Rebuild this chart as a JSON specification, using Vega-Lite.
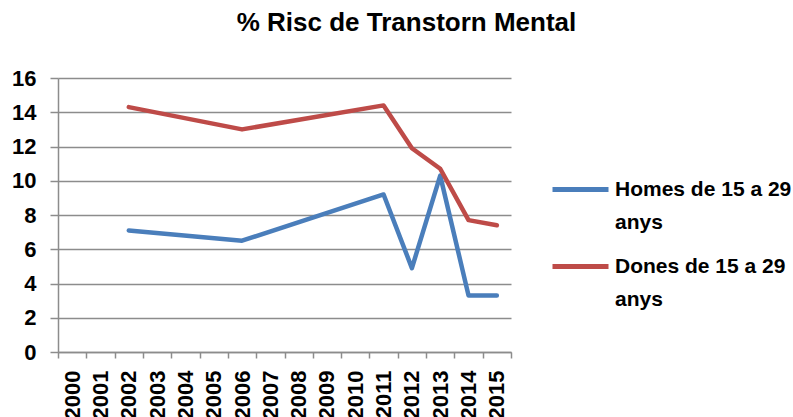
{
  "$schema": "https://vega.github.io/schema/vega-lite/v6.json",
  "width": 453,
  "height": 274,
  "autosize": {"type": "none"},
  "padding": {"left": 58, "top": 78, "right": 282, "bottom": 65},
  "background": "white",
  "title": {
    "text": "% Risc de Transtorn Mental",
    "font": "Liberation Sans",
    "fontSize": 26,
    "fontWeight": "bold",
    "color": "black",
    "anchor": "middle",
    "frame": "group",
    "offset": 31,
    "dx": 122
  },
  "data": {
    "values": [
      {"year": "2002", "serie": "Homes de 15 a 29 anys", "value": 7.1},
      {"year": "2006", "serie": "Homes de 15 a 29 anys", "value": 6.5},
      {"year": "2011", "serie": "Homes de 15 a 29 anys", "value": 9.2},
      {"year": "2012", "serie": "Homes de 15 a 29 anys", "value": 4.9},
      {"year": "2013", "serie": "Homes de 15 a 29 anys", "value": 10.3},
      {"year": "2014", "serie": "Homes de 15 a 29 anys", "value": 3.3},
      {"year": "2015", "serie": "Homes de 15 a 29 anys", "value": 3.3},
      {"year": "2002", "serie": "Dones de 15 a 29 anys", "value": 14.3},
      {"year": "2006", "serie": "Dones de 15 a 29 anys", "value": 13.0},
      {"year": "2011", "serie": "Dones de 15 a 29 anys", "value": 14.4},
      {"year": "2012", "serie": "Dones de 15 a 29 anys", "value": 11.9},
      {"year": "2013", "serie": "Dones de 15 a 29 anys", "value": 10.7},
      {"year": "2014", "serie": "Dones de 15 a 29 anys", "value": 7.7},
      {"year": "2015", "serie": "Dones de 15 a 29 anys", "value": 7.4}
    ]
  },
  "mark": {"type": "line", "strokeWidth": 4.5, "strokeCap": "round", "strokeJoin": "round"},
  "encoding": {
    "x": {
      "field": "year",
      "type": "ordinal",
      "scale": {
        "type": "band",
        "paddingInner": 0,
        "paddingOuter": 0,
        "domain": ["2000","2001","2002","2003","2004","2005","2006","2007","2008","2009","2010","2011","2012","2013","2014","2015"]
      },
      "axis": {
        "title": null,
        "labelAngle": -90,
        "labelAlign": "right",
        "labelBaseline": "middle",
        "labelFont": "Liberation Sans",
        "labelFontSize": 22,
        "labelFontWeight": "bold",
        "labelColor": "black",
        "labelPadding": 12,
        "tickBand": "extent",
        "tickSize": 6,
        "tickColor": "#8c8c8c",
        "tickWidth": 1.5,
        "domainColor": "#8c8c8c",
        "domainWidth": 1.5,
        "grid": false
      }
    },
    "y": {
      "field": "value",
      "type": "quantitative",
      "scale": {"domain": [0, 16], "nice": false},
      "axis": {
        "title": null,
        "values": [0, 2, 4, 6, 8, 10, 12, 14, 16],
        "labelFont": "Liberation Sans",
        "labelFontSize": 22,
        "labelFontWeight": "bold",
        "labelColor": "black",
        "labelPadding": 14,
        "tickSize": 8,
        "tickColor": "#8c8c8c",
        "tickWidth": 1.5,
        "domainColor": "#8c8c8c",
        "domainWidth": 1.5,
        "grid": true,
        "gridColor": "#8c8c8c",
        "gridWidth": 1.5
      }
    },
    "color": {
      "field": "serie",
      "type": "nominal",
      "scale": {
        "domain": ["Homes de 15 a 29 anys", "Dones de 15 a 29 anys"],
        "range": ["#4a7ebb", "#be4b48"]
      },
      "legend": {
        "title": null,
        "orient": "none",
        "legendX": 492,
        "legendY": 81,
        "symbolType": "stroke",
        "symbolSize": 3136,
        "symbolStrokeWidth": 5,
        "labelFont": "Liberation Sans",
        "labelFontSize": 21,
        "labelFontWeight": "bold",
        "labelColor": "black",
        "labelBaseline": "middle",
        "labelOffset": 4,
        "labelLimit": 300,
        "rowPadding": 3,
        "labelExpr": "datum.label == 'Homes de 15 a 29 anys' ? ['Homes de 15 a 29', 'anys'] : ['Dones de 15 a 29', 'anys']",
        "encode": {"labels": {"update": {"lineHeight": {"value": 33}}}}
      }
    }
  },
  "config": {"view": {"stroke": null}}
}
